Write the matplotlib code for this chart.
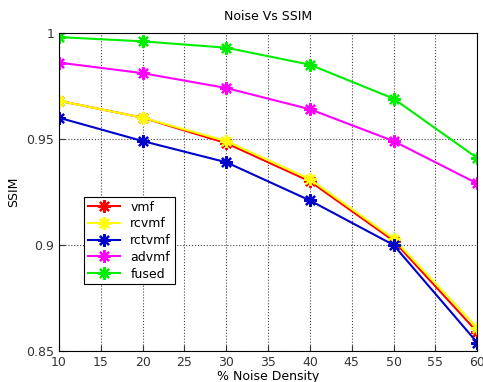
import numpy as np
import matplotlib
matplotlib.use('Agg')
import matplotlib.pyplot as plt

# noise density (%) and SSIM values
noise = [10, 20, 30, 40, 50, 60]
vmf = [0.968, 0.960, 0.948, 0.930, 0.902, 0.859]
rcvmf = [0.968, 0.960, 0.949, 0.931, 0.903, 0.861]
rctvmf = [0.960, 0.949, 0.939, 0.921, 0.900, 0.854]
advmf = [0.986, 0.981, 0.974, 0.964, 0.949, 0.929]
fused = [0.998, 0.996, 0.993, 0.985, 0.969, 0.941]

names = ['vmf', 'rcvmf', 'rctvmf', 'advmf', 'fused']
colors = ['#ff0000', '#ffff00', '#0000cc', '#ff00ff', '#00ee00']
xticks = [10, 15, 20, 25, 30, 35, 40, 45, 50, 55, 60]
yticks = [0.85, 0.9, 0.95, 1.0]
ylabels = ['0.85', '0.9', '0.95', '1']

fig = plt.figure(figsize=(4.83, 3.82), dpi=100)
ax = fig.add_axes([0.122, 0.081, 0.866, 0.833])

# matlab style asterisk marker
for vals, name, c in zip([vmf, rcvmf, rctvmf, advmf, fused], names, colors):
    ax.plot(noise, vals, color=c, marker=(8, 2, 0), markersize=9,
            markeredgewidth=1.6, linewidth=1.5, label=name)

ax.set_xlim(10, 60)
ax.set_ylim(0.85, 1.0)
ax.set_xticks(xticks)
ax.set_yticks(yticks)
ax.set_yticklabels(ylabels)
ax.tick_params(direction='in', labelsize=9, length=4, colors='#333333')
ax.grid(True, linestyle=':', color='#444444', linewidth=0.8)

ax.set_title('Noise Vs SSIM', fontsize=9, pad=9)
ax.set_xlabel('% Noise Density', fontsize=9, labelpad=1)
ax.set_ylabel('SSIM', fontsize=9, labelpad=4)

leg = ax.legend(loc='lower left', bbox_to_anchor=(0.045, 0.19), fontsize=9,
                fancybox=False, framealpha=1, edgecolor='black',
                handlelength=2.6, borderpad=0.3, labelspacing=0.3)
leg.get_frame().set_linewidth(0.8)

fig.savefig('out.png', dpi=100)
